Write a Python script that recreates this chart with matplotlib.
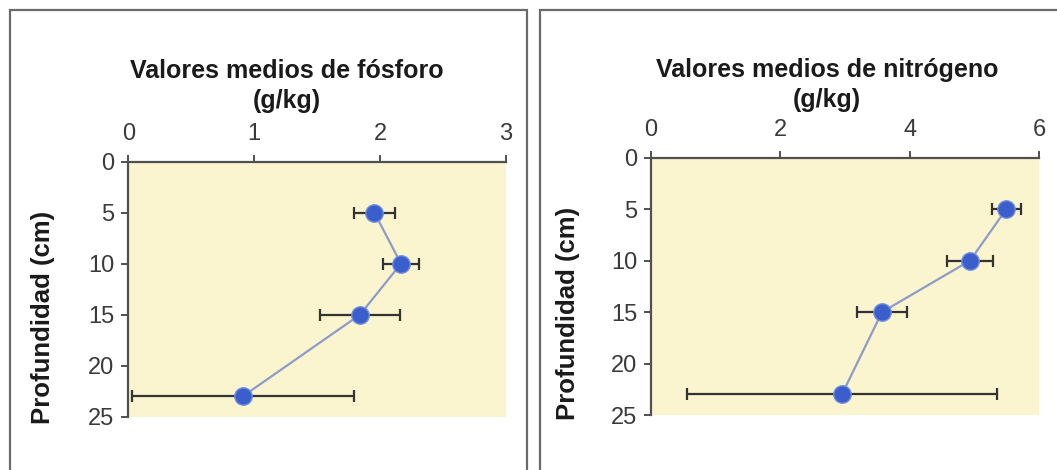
import matplotlib
matplotlib.use("Agg")
import matplotlib.pyplot as plt
from matplotlib.patches import Rectangle

plt.rcParams['font.family'] = ['Liberation Sans', 'DejaVu Sans']

# depth of each sample (cm)
depth = [5, 10, 15, 23]

# phosphorus (g/kg): mean and error
fosforo = [1.955, 2.166, 1.84, 0.91]
fosforo_err = [0.165, 0.143, 0.316, 0.88]

# nitrogen (g/kg): mean and error
nitrogeno = [5.49, 4.93, 3.57, 2.95]
nitrogeno_err = [0.22, 0.35, 0.38, 2.40]

y_ticks = [0, 5, 10, 15, 20, 25]
x_ticks_p = [0, 1, 2, 3]
x_ticks_n = [0, 2, 4, 6]

titulo_p = "Valores medios de fósforo\n(g/kg)"
titulo_n = "Valores medios de nitrógeno\n(g/kg)"
ylabel = "Profundidad (cm)"

W, H = 1057, 470
fig = plt.figure(figsize=(W / 100, H / 100), dpi=100)
fig.patch.set_facecolor('white')

FILL = '#FAF4CF'
SPINE = '#505050'
TICKCOL = '#3a3a3a'
MARKER = '#3A5FCC'
LINE = '#8E9CC8'


def px_rect(x0, y0, x1, y1):
    return [x0 / W, 1 - y1 / H, (x1 - x0) / W, (y1 - y0) / H]


def panel(rect, x, xerr, xlim, xticks, title, title_xy, ylab_xy):
    ax = fig.add_axes(rect)
    ax.set_facecolor(FILL)
    ax.errorbar(x, depth, xerr=xerr, fmt='none', ecolor='#333333',
                elinewidth=1.6, capsize=4.5, capthick=1.6, zorder=2)
    ax.plot(x, depth, '-', color=LINE, lw=1.6, zorder=3)
    ax.plot(x, depth, 'o', color=MARKER, markersize=12.5,
            markeredgecolor='#6E8DE0', markeredgewidth=1.0, zorder=4)
    ax.set_xlim(xlim)
    ax.set_ylim(25, 0)
    ax.set_xticks(xticks)
    ax.set_yticks(y_ticks)
    ax.xaxis.tick_top()
    for s in ['bottom', 'right']:
        ax.spines[s].set_visible(False)
    for s in ['top', 'left']:
        ax.spines[s].set_color(SPINE)
        ax.spines[s].set_linewidth(1.6)
    ax.tick_params(axis='x', direction='out', length=5, width=1.4,
                   color=SPINE, labelsize=17, labelcolor=TICKCOL, pad=7)
    ax.tick_params(axis='y', direction='out', length=5, width=1.4,
                   color=SPINE, labelsize=17, labelcolor=TICKCOL, pad=5)
    fig.text(title_xy[0] / W, 1 - title_xy[1] / H, title, ha='center',
             va='center', fontsize=18, fontweight='bold', color='#1a1a1a',
             linespacing=1.28)
    fig.text(ylab_xy[0] / W, 1 - ylab_xy[1] / H, ylabel, ha='center',
             va='center', rotation=90, fontsize=18.5, fontweight='bold',
             color='#1a1a1a')
    return ax


panel(px_rect(128.3, 161.7, 506, 416.7), fosforo, fosforo_err, (0, 3),
      x_ticks_p, titulo_p, (287, 86), (43, 317))
panel(px_rect(651, 157.7, 1039.3, 415), nitrogeno, nitrogeno_err, (0, 6),
      x_ticks_n, titulo_n, (827, 85), (568, 313))

# panel frames
for x0, x1 in [(9.5, 526.5), (540, 1070)]:
    fig.add_artist(Rectangle((x0 / W, -0.1), (x1 - x0) / W, 1.1 - 10 / H,
                             transform=fig.transFigure, fill=False,
                             edgecolor='#6a6a6a', lw=1.6, clip_on=False))

fig.savefig('out.png', dpi=100)
